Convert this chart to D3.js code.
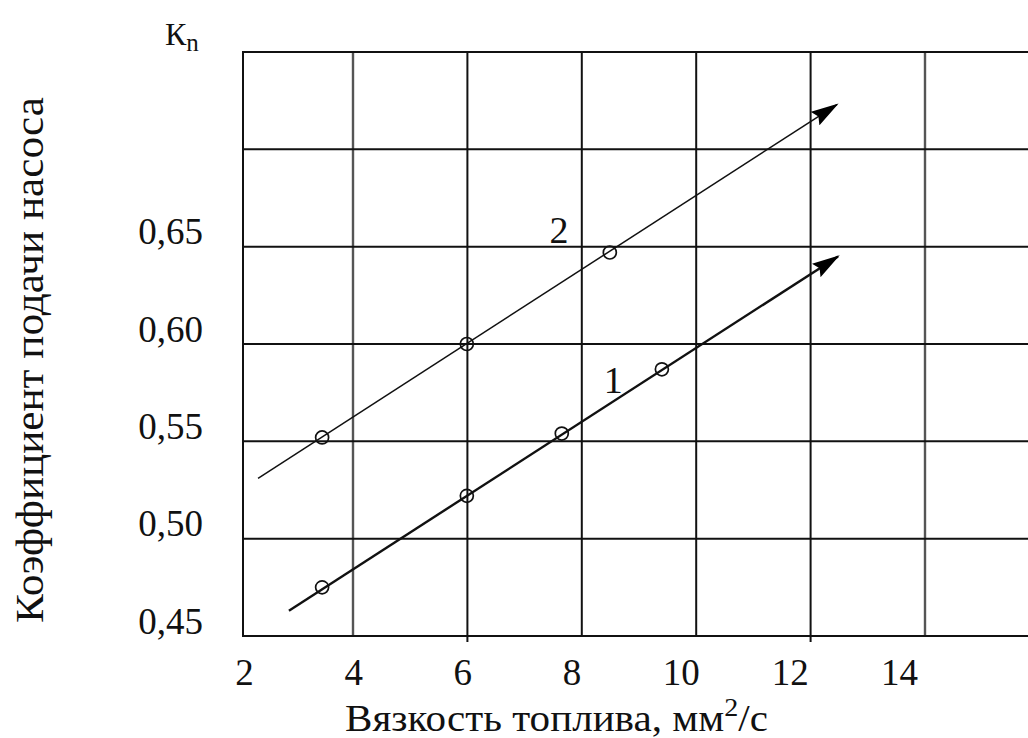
<!DOCTYPE html>
<html><head><meta charset="utf-8">
<script src="https://cdn.jsdelivr.net/npm/d3@7"></script>
<style>
body{margin:0;background:#fff}
svg{display:block}
svg text{font-family:'Liberation Serif','Tinos','Times New Roman','DejaVu Serif',serif !important;fill:#111}
</style>
</head><body><div id="chart"></div>
<script>
// ---- data ----
const xTickValues = [2, 4, 6, 8, 10, 12, 14];
const xGridValues = [4, 6, 8, 10, 12, 14];
const yTickValues = [0.45, 0.50, 0.55, 0.60, 0.65];
const yTickLabels = ["0,45", "0,50", "0,55", "0,60", "0,65"];
const yGridValues = [0.50, 0.55, 0.60, 0.65, 0.70];
const series1X = [3.46, 5.99, 7.65, 9.40];
const series1Y = [0.475, 0.522, 0.554, 0.587];
const series2X = [3.46, 5.99, 8.49];
const series2Y = [0.552, 0.600, 0.647];
const trend1X = [2.88, 12.48];
const trend1Y = [0.463, 0.645];
const trend2X = [2.34, 12.46];
const trend2Y = [0.531, 0.723];
const seriesNames = ["1", "2"];
const xTitle = "Вязкость топлива, мм";
const yTitle = "Коэффициент подачи насоса";

// ---- layout ----
const W = 1028, H = 738;
const mLeft = 243, mTop = 52, mBottom = 636, mRight = W;
const FONT = "'Liberation Serif','Tinos','Times New Roman','DejaVu Serif',serif";

const x = d3.scaleLinear().domain([4, 14]).range([353, 925]);
const xLabel = d3.scaleLinear().domain([2, 14]).range([244, 899]);
const y = d3.scaleLinear().domain([0.45, 0.75]).range([mBottom, mTop]);

const svg = d3.select("#chart").append("svg").attr("width", W).attr("height", H)
  .attr("font-family", FONT);

svg.append("defs").append("marker")
  .attr("id", "arrow").attr("markerUnits", "userSpaceOnUse")
  .attr("viewBox", "0 0 28 16").attr("refX", 26).attr("refY", 8)
  .attr("markerWidth", 28).attr("markerHeight", 16).attr("orient", "auto")
  .append("path").attr("d", "M0,0 L28,8 L0,16 L4,8 Z").attr("fill", "#000");

// grid
const grid = svg.append("g").attr("stroke", "#111").attr("stroke-width", 2);
grid.selectAll("line.v").data(xGridValues).join("line")
  .attr("x1", d => x(d)).attr("x2", d => x(d))
  .attr("y1", mTop).attr("y2", d => (d === 6 || d === 12) ? mBottom + 6 : mBottom)
  .attr("stroke", d => (d === 4 || d === 14) ? "#555" : "#111")
  .attr("stroke-width", d => (d === 4 || d === 14) ? 2.4 : 2);
grid.selectAll("line.h").data(yGridValues).join("line")
  .attr("x1", mLeft).attr("x2", mRight)
  .attr("y1", d => y(d)).attr("y2", d => y(d));
// frame
grid.append("path").attr("fill", "none")
  .attr("d", `M${mRight},${mTop} L${mLeft},${mTop} L${mLeft},${mBottom} L${mRight},${mBottom}`);

// x tick labels
const xAxis = d3.axisBottom(xLabel).tickValues(xTickValues).tickSize(0).tickPadding(0)
  .tickFormat(d => String(d));
const gx = svg.append("g").attr("transform", `translate(0,${mBottom})`).call(xAxis)
  .attr("font-family", FONT).attr("font-size", 37);
gx.select(".domain").remove();
gx.selectAll("text").attr("dy", null).attr("y", 49).attr("fill", "#111");

// y tick labels
const yAxis = d3.axisLeft(y).tickValues(yTickValues).tickSize(0).tickPadding(0)
  .tickFormat((d, i) => yTickLabels[i]);
const gy = svg.append("g").attr("transform", `translate(203,0)`).call(yAxis)
  .attr("font-family", FONT).attr("font-size", 37);
gy.select(".domain").remove();
gy.selectAll("text").attr("dy", "-3").attr("dominant-baseline", "alphabetic").attr("fill", "#111");

// trend lines
const lineGen = d3.line().x(d => x(d[0])).y(d => y(d[1]));
const t1 = trend1X.map((v, i) => [v, trend1Y[i]]);
const t2 = trend2X.map((v, i) => [v, trend2Y[i]]);
svg.append("path").datum(t2).attr("d", lineGen).attr("fill", "none")
  .attr("stroke", "#111").attr("stroke-width", 1.5).attr("marker-end", "url(#arrow)");
svg.append("path").datum(t1).attr("d", lineGen).attr("fill", "none")
  .attr("stroke", "#111").attr("stroke-width", 2.4).attr("marker-end", "url(#arrow)");

// points
const pts = series1X.map((v, i) => [v, series1Y[i]]).concat(series2X.map((v, i) => [v, series2Y[i]]));
svg.selectAll("circle.pt").data(pts).join("circle")
  .attr("cx", d => x(d[0])).attr("cy", d => y(d[1])).attr("r", 6.5)
  .attr("fill", "none").attr("stroke", "#111").attr("stroke-width", 1.7);

// series labels
const labelPos = [[8.55, 0.575], [7.6, 0.652]];
svg.selectAll("text.sl").data(seriesNames).join("text")
  .attr("x", (d, i) => x(labelPos[i][0])).attr("y", (d, i) => y(labelPos[i][1]))
  .attr("text-anchor", "middle").attr("font-size", 38).text(d => d);

// axis titles
const xt = svg.append("text").attr("x", 345).attr("y", 731).attr("font-size", 38)
  .attr("textLength", 423).attr("lengthAdjust", "spacingAndGlyphs");
xt.append("tspan").text(xTitle);
xt.append("tspan").attr("font-size", 26).attr("dy", -15).text("2");
xt.append("tspan").attr("dy", 15).text("/с");

svg.append("text").attr("transform", "translate(43,623) rotate(-90)")
  .attr("font-size", 39).attr("textLength", 526).attr("lengthAdjust", "spacingAndGlyphs")
  .text(yTitle);

const kn = svg.append("text").attr("x", 165).attr("y", 45).attr("font-size", 32);
kn.append("tspan").text("К");
kn.append("tspan").attr("font-size", 25).attr("dy", 6).text("n");
</script>
</body></html>
